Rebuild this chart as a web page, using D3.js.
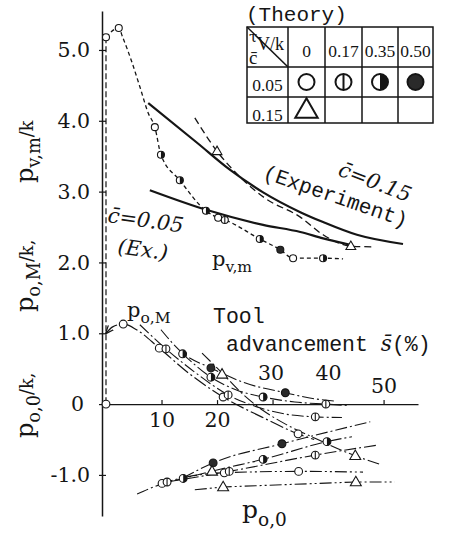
<!DOCTYPE html>
<html>
<head>
<meta charset="utf-8">
<script src="https://cdn.jsdelivr.net/npm/d3@7"></script>
<style>
  body { margin: 0; background: #fff; }
</style>
</head>
<body>
<script>
// tool advancement s (%) vs p/k

// p_v,m / k : theory c=0.05 (fine dashes), theory c=0.15 (dashes), experiments (solid)
const thC005 = [[0,5.18],[2.3,5.31],[3.0,5.18],[4.7,4.82],[6.1,4.48],[7.6,4.11],[8.8,3.91],[9.9,3.52],
  [13.3,3.16],[18.0,2.73],[20.2,2.63],[21.4,2.60],[27.7,2.33],[31.4,2.18],[33.7,2.06],[39.1,2.06],[42.7,2.05]];
const thC015 = [[16.0,4.04],[20.0,3.57],[24.1,3.21],[28.6,2.91],[35.0,2.64],[39.1,2.39],[44.1,2.23],[47.9,2.22]];
const exC015 = [[7.6,4.25],[16.4,3.69],[22.3,3.31],[28.3,2.99],[35.0,2.71],[39.1,2.57],[45.2,2.39],[53.5,2.26]];
const exC005 = [[7.9,3.02],[18.2,2.74],[28.3,2.53],[35.0,2.43],[39.1,2.34],[44.0,2.25]];
const jumpLine = [[0,5.18],[0,0]];

// p_o,M / k  (one curve per tau, c=0.05, plus c=0.15 triangles)
const pM0 = [[0,1.0],[1.2,1.09],[3.1,1.13],[5.5,1.05],[9.6,0.79],[15,0.43],[21.1,0.10],[28,-0.18],[34.6,-0.42],[37.5,-0.50]];
const pM017 = [[6.1,1.12],[10.8,0.78],[16,0.45],[22,0.13],[28,-0.06],[33,-0.15],[37.7,-0.18],[42.5,-0.19]];
const pM035 = [[13.8,0.71],[18.9,0.38],[23.5,0.20],[28.3,0.10],[34,0.03],[39.6,0.0],[43.5,-0.02]];
const pM050 = [[9.9,1.05],[13.8,0.72],[18.9,0.51],[25,0.30],[32.3,0.16],[38,0.07],[41.5,0.04]];
const pMtri = [[17.3,0.72],[20.9,0.44],[24.5,0.15],[28.3,-0.09],[32.5,-0.29],[37.3,-0.47],[44.9,-0.73],[49.7,-0.86]];

// p_o,0 / k
const pO0 = [[9.9,-1.12],[15,-1.02],[21.3,-0.97],[34.7,-0.95],[46.3,-0.96]];
const pO017 = [[11,-1.10],[22.2,-0.95],[37.7,-0.72],[48.8,-0.58]];
const pO035 = [[5.6,-1.27],[10,-1.13],[13.9,-1.05],[20,-0.93],[28.3,-0.78],[39.8,-0.53],[44.3,-0.46]];
const pO050 = [[13.9,-1.04],[19.3,-0.83],[31.7,-0.56],[47.6,-0.25]];
const pOtri = [[16,-1.21],[21.1,-1.17],[45,-1.10],[52,-1.10]];

// markers: o = tau 0, v = 0.17, h = 0.35, f = 0.50, t = c 0.15
const upperMarks = [[0,5.18,"o"],[2.3,5.31,"o"],[8.8,3.91,"o"],[9.9,3.52,"h"],[13.3,3.16,"h"],[18.0,2.73,"h"],
  [20.2,2.63,"o"],[21.4,2.60,"v"],[27.7,2.33,"h"],[31.4,2.18,"f"],[33.7,2.06,"o"],[39.1,2.06,"h"],
  [20.0,3.57,"t"],[44.1,2.23,"t"]];
const lowerMarks = [[0,0,"o"],[3.1,1.13,"o"],[9.6,0.79,"o"],[10.8,0.78,"v"],[13.8,0.71,"h"],[18.9,0.51,"f"],
  [20.9,0.42,"t"],[18.9,0.38,"h"],[21.1,0.10,"o"],[22.0,0.13,"v"],[28.3,0.10,"h"],[32.3,0.16,"f"],
  [39.6,0.0,"v"],[37.7,-0.18,"v"],[34.6,-0.42,"o"],[44.9,-0.73,"t"],
  [10.1,-1.12,"o"],[11.0,-1.10,"v"],[13.9,-1.05,"h"],[19.3,-0.83,"f"],[19.1,-0.95,"t"],[21.3,-0.97,"o"],
  [22.2,-0.95,"v"],[28.3,-0.78,"h"],[31.7,-0.56,"f"],[37.7,-0.72,"v"],[34.7,-0.95,"o"],[39.8,-0.53,"h"],
  [21.1,-1.17,"t"],[45.0,-1.10,"t"]];

const yTicks = [-1, 0, 1, 2, 3, 4, 5];
const xTicks = [10, 20, 30, 40, 50];
const tauCols = ["0", "0.17", "0.35", "0.50"];
const cRows = ["0.05", "0.15"];
const legendSyms = [["o", "v", "h", "f"], ["t", "", "", ""]];

const W = 457, H = 536;
const ink = "#151515";
const serif = "'DejaVu Serif', serif";
const mono = "'Liberation Mono', monospace";

const svg = d3.select("body").append("svg")
  .attr("width", W).attr("height", H)
  .style("background", "#fff");

const x = d3.scaleLinear().domain([-0.72, 56.2]).range([102, 418]);
const y = d3.scaleLinear().domain([-1.58, 5.55]).range([516, 11]);

// axes
const yAxis = svg.append("g")
  .attr("transform", "translate(" + x(-0.72) + ",0)")
  .call(d3.axisLeft(y).tickValues(yTicks).tickSize(-4).tickSizeOuter(0).tickPadding(12)
    .tickFormat(d => d === 0 ? "0" : d.toFixed(1)));
yAxis.selectAll("text").attr("font-family", serif).attr("font-size", 20.5).attr("fill", ink);
yAxis.select(".domain").attr("stroke", ink).attr("stroke-width", 1.5);
yAxis.selectAll(".tick line").attr("stroke", ink).attr("x1", -3).attr("stroke-width", 1.2);
yAxis.selectAll(".tick").filter(d => d === 0).select("text").attr("x", -18);

const xAxis = svg.append("g")
  .attr("transform", "translate(0," + y(0) + ")")
  .call(d3.axisBottom(x).tickValues(xTicks).tickSize(-4).tickSizeOuter(0));
xAxis.select(".domain").attr("stroke", ink).attr("stroke-width", 1.3);
xAxis.selectAll(".tick line").attr("stroke", ink).attr("stroke-width", 1.2);
xAxis.selectAll("text")
  .attr("font-family", serif).attr("font-size", 20.5).attr("fill", ink)
  .attr("dy", null)
  .attr("y", d => d < 30 ? 23 : (d < 50 ? -24 : -11));
xAxis.selectAll(".tick").filter(d => d === 30).select("text").attr("dx", -2);

// curves
const line = d3.line().x(d => x(d[0])).y(d => y(d[1])).curve(d3.curveMonotoneX);
const straight = d3.line().x(d => x(d[0])).y(d => y(d[1]));

svg.append("defs").append("marker")
  .attr("id", "arr").attr("viewBox", "0 0 10 10").attr("refX", 9).attr("refY", 5)
  .attr("markerWidth", 7).attr("markerHeight", 7).attr("orient", "auto-start-reverse")
  .append("path").attr("d", "M0,1L10,5L0,9").attr("fill", "none").attr("stroke", ink).attr("stroke-width", 1.5);

const series = [
  {d: jumpLine, dash: "6,3", w: 1.2, gen: straight},
  {d: thC005, dash: "4,3", w: 1.3, gen: line},
  {d: thC015, dash: "7,4", w: 1.3, gen: line},
  {d: exC015, dash: null, w: 2.2, gen: line},
  {d: exC005, dash: null, w: 2.2, gen: line},
  {d: pM0, dash: "14,3,2,3", w: 1.2, gen: line, arrow: true},
  {d: pM017, dash: "12,3,2,3", w: 1.1, gen: line},
  {d: pM035, dash: "12,3,2,3", w: 1.1, gen: line},
  {d: pM050, dash: "12,3,2,3", w: 1.1, gen: line},
  {d: pMtri, dash: "12,3,2,3", w: 1.1, gen: line},
  {d: pO0, dash: "12,3,2,3,2,3", w: 1.1, gen: line},
  {d: pO017, dash: "12,3,2,3", w: 1.1, gen: line},
  {d: pO035, dash: "12,3,2,3", w: 1.1, gen: line},
  {d: pO050, dash: "12,3,2,3", w: 1.1, gen: line},
  {d: pOtri, dash: "12,3,2,3,2,3", w: 1.1, gen: straight}
];

svg.append("g").selectAll("path").data(series).join("path")
  .attr("d", s => s.gen(s.d))
  .attr("fill", "none")
  .attr("stroke", ink)
  .attr("stroke-width", s => s.w)
  .attr("stroke-dasharray", s => s.dash)
  .attr("marker-start", s => s.arrow ? "url(#arr)" : null);

// point symbols
function symbol(g, cx, cy, r, t) {
  if (!t) return;
  if (t === "t") {
    g.append("path")
      .attr("d", d3.symbol(d3.symbolTriangle, r * r * 3.4)())
      .attr("transform", "translate(" + cx + "," + (cy + r * 0.15) + ")")
      .attr("fill", "#fff").attr("stroke", ink).attr("stroke-width", r > 5 ? 2 : 1.1);
    return;
  }
  g.append("circle").attr("cx", cx).attr("cy", cy).attr("r", r)
    .attr("fill", t === "f" ? "#2a2a2a" : "#fff")
    .attr("stroke", ink).attr("stroke-width", r > 5 ? 2 : 1.1);
  if (t === "v") {
    g.append("line").attr("x1", cx).attr("x2", cx).attr("y1", cy - r).attr("y2", cy + r)
      .attr("stroke", ink).attr("stroke-width", r > 5 ? 2 : 1.1);
  }
  if (t === "h") {
    g.append("path")
      .attr("d", "M" + cx + "," + (cy - r) + "A" + r + "," + r + " 0 0 1 " + cx + "," + (cy + r) + "Z")
      .attr("fill", ink);
  }
}

const markG = svg.append("g");
upperMarks.forEach(([s, v, t]) => symbol(markG, x(s), y(v), 3.5, t));
lowerMarks.forEach(([s, v, t]) => symbol(markG, x(s), y(v), 3.9, t));

// axis titles
function label(parts, tx, ty, size, rot, family, italic) {
  const t = svg.append("text")
    .attr("transform", "translate(" + tx + "," + ty + ")" + (rot ? " rotate(" + rot + ")" : ""))
    .attr("font-family", family || serif).attr("font-size", size).attr("fill", ink)
    .attr("font-style", italic ? "italic" : null);
  parts.forEach(([txt, sub]) => {
    t.append("tspan")
      .attr("font-size", sub ? size * 0.74 : size)
      .attr("dy", sub === 1 ? size * 0.3 : (sub === -1 ? -size * 0.3 : 0))
      .text(txt);
  });
  return t;
}

label([["p"], ["v,m", 1], ["/k", -1]], 33, 183, 24, -90);
label([["p"], ["o,M", 1], ["/k,", -1]], 33, 312, 24, -90);
label([["p"], ["o,0", 1], ["/k,", -1]], 33, 438, 24, -90);

label([["c\u0304=0.05"]], 107, 222, 21, 8, serif, true);
label([["(Ex.)"]], 117, 253, 21, 8, serif, true);
label([["p"], ["v,m", 1]], 212, 266, 21, 0);
label([["c\u0304=0.15"]], 337, 175, 21, 21, serif, true);
label([["(Experiment)"]], 262, 178, 21, 19, mono);
label([["p"], ["o,M", 1]], 127, 317, 21, 0);
label([["p"], ["o,0", 1]], 242, 518, 25, 0);

svg.append("text").attr("x", 213).attr("y", 323)
  .attr("font-family", mono).attr("font-size", 21.5).attr("fill", ink).text("Tool");
const adv = svg.append("text").attr("x", 226).attr("y", 351)
  .attr("font-family", mono).attr("font-size", 21.5).attr("fill", ink);
adv.append("tspan").text("advancement ");
adv.append("tspan").attr("font-family", serif).attr("font-style", "italic").text("s\u0304");
adv.append("tspan").text("(%)");

// legend table (Theory)
svg.append("text").attr("x", 246).attr("y", 21)
  .attr("font-family", mono).attr("font-size", 21).attr("fill", ink).text("(Theory)");

const colEdges = [247, 288, 325, 362, 398, 433];
const rowEdges = [27, 67, 97, 123];
const tab = svg.append("g").attr("stroke", ink).attr("stroke-width", 1.5).attr("fill", "none");
tab.append("rect").attr("x", colEdges[0]).attr("y", rowEdges[0])
  .attr("width", colEdges[5] - colEdges[0]).attr("height", rowEdges[3] - rowEdges[0]);
colEdges.slice(1, 5).forEach(cx => tab.append("line").attr("x1", cx).attr("x2", cx)
  .attr("y1", rowEdges[0]).attr("y2", rowEdges[3]));
rowEdges.slice(1, 3).forEach(ry => tab.append("line").attr("y1", ry).attr("y2", ry)
  .attr("x1", colEdges[0]).attr("x2", colEdges[5]));
tab.append("line").attr("x1", colEdges[0]).attr("y1", rowEdges[0])
  .attr("x2", colEdges[1]).attr("y2", rowEdges[1]);

const tf = "'Liberation Serif', serif";
svg.append("text").attr("x", 249).attr("y", 42).attr("font-family", serif).attr("font-size", 15)
  .attr("fill", ink).text("\u03c4");
svg.append("text").attr("x", 257).attr("y", 50).attr("font-family", tf).attr("font-size", 18)
  .attr("fill", ink).text("V/k");
svg.append("text").attr("x", 249).attr("y", 64).attr("font-family", tf).attr("font-size", 19)
  .attr("fill", ink).text("c\u0304");

tauCols.forEach((c, i) => {
  svg.append("text").attr("x", (colEdges[i + 1] + colEdges[i + 2]) / 2).attr("y", 57)
    .attr("text-anchor", "middle").attr("font-family", tf).attr("font-size", 17.5)
    .attr("fill", ink).text(c);
});
cRows.forEach((c, j) => {
  svg.append("text").attr("x", (colEdges[0] + colEdges[1]) / 2).attr("y", rowEdges[j + 1] + 24)
    .attr("text-anchor", "middle").attr("font-family", tf).attr("font-size", 17.5)
    .attr("fill", ink).text(c);
  legendSyms[j].forEach((t, i) => {
    symbol(svg, (colEdges[i + 1] + colEdges[i + 2]) / 2, (rowEdges[j + 1] + rowEdges[j + 2]) / 2, 8, t);
  });
});
</script>
</body>
</html>
